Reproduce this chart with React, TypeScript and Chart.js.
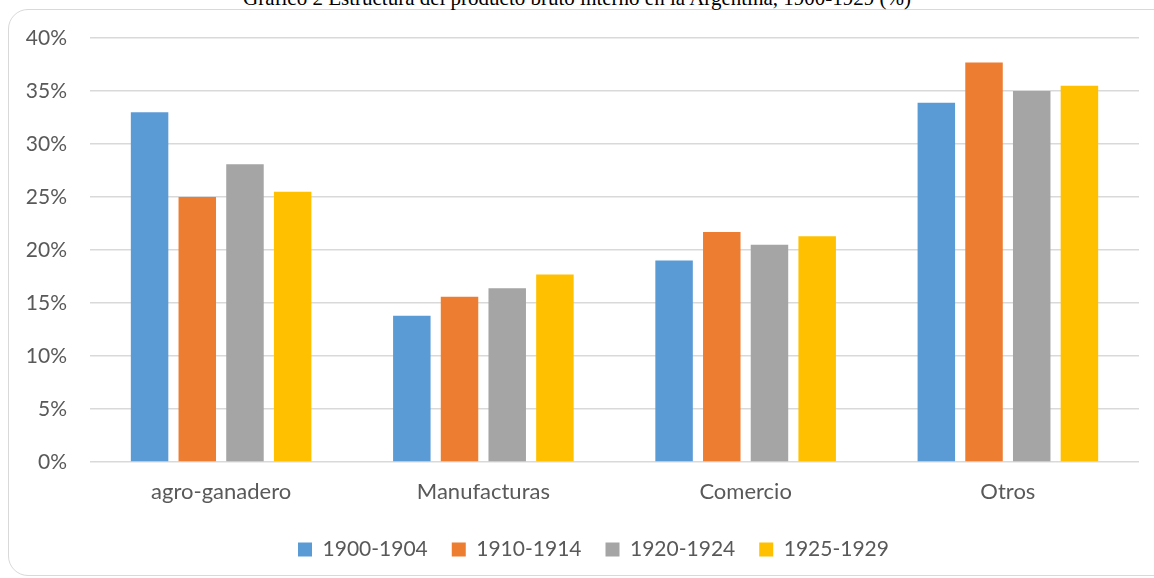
import React, { useEffect, useRef } from "react";
import { Chart, registerables } from "chart.js";

Chart.register(...registerables);

const titleText = "Gráfico 2  Estructura del producto bruto interno en la Argentina, 1900-1929 (%)";
const categories = ["agro-ganadero", "Manufacturas", "Comercio", "Otros"];
const seriesLabels = ["1900-1904", "1910-1914", "1920-1924", "1925-1929"];
const values1900 = [33.0, 13.8, 19.0, 33.9];
const values1910 = [25.0, 15.6, 21.7, 37.7];
const values1920 = [28.1, 16.4, 20.5, 35.0];
const values1925 = [25.5, 17.7, 21.3, 35.5];
const seriesColors = ["#5B9BD5", "#ED7D31", "#A5A5A5", "#FFC000"];
const yMin = 0;
const yMax = 40;
const yStep = 5;

const FONT = "Lato";
const TEXT_COLOR = "#595959";

export default function App() {
  const canvasRef = useRef<HTMLCanvasElement | null>(null);

  useEffect(() => {
    const canvas = canvasRef.current;
    if (!canvas) return;
    const allValues = [values1900, values1910, values1920, values1925];
    const chart = new Chart(canvas, {
      type: "bar",
      data: {
        labels: categories,
        datasets: seriesLabels.map((label, i) => ({
          label,
          data: allValues[i],
          backgroundColor: seriesColors[i],
          borderWidth: 0,
          categoryPercentage: 0.7275,
          barPercentage: 0.786,
        })),
      },
      options: {
        responsive: false,
        animation: false,
        layout: { padding: { left: 24, right: 17, top: 38, bottom: 8 } },
        scales: {
          y: {
            min: yMin,
            max: yMax,
            ticks: {
              stepSize: yStep,
              callback: (v: any) => `${v}%`,
              color: TEXT_COLOR,
              font: { family: FONT, size: 21 },
              padding: 23,
            },
            grid: { color: "#d9d9d9", lineWidth: 1.5, drawTicks: false },
            border: { display: false },
            afterFit: (s: any) => {
              s.width = 66;
            },
          },
          yRightSpacer: {
            type: "linear",
            position: "right",
            display: true,
            ticks: { display: false },
            grid: { display: false, drawTicks: false },
            border: { display: false },
            afterFit: (s: any) => {
              s.width = 24;
            },
          },
          x: {
            ticks: {
              color: TEXT_COLOR,
              font: { family: FONT, size: 22 },
              padding: 17,
            },
            grid: { display: false, drawTicks: false },
            border: { display: false },
            afterFit: (s: any) => {
              s.height = 53;
            },
          },
        },
        plugins: {
          legend: {
            position: "bottom",
            labels: {
              boxWidth: 14,
              boxHeight: 14,
              padding: 24,
              color: TEXT_COLOR,
              font: { family: FONT, size: 21 },
            },
          },
          tooltip: { enabled: false },
        },
      },
    });
    return () => chart.destroy();
  }, []);

  return (
    <div
      style={{
        position: "fixed",
        left: 0,
        top: 0,
        width: 1154,
        height: 578,
        overflow: "hidden",
        background: "#ffffff",
      }}
    >
      <div
        style={{
          position: "absolute",
          left: 8,
          top: 9,
          width: 1180,
          height: 567,
          border: "1px solid #d9d9d9",
          borderRadius: 20,
          boxSizing: "border-box",
        }}
      />
      <div
        style={{
          position: "absolute",
          left: 0,
          top: -12,
          width: 1154,
          textAlign: "center",
          fontFamily: "'Liberation Serif', 'Times New Roman', serif",
          fontSize: 21,
          lineHeight: "20px",
          color: "#000000",
          whiteSpace: "nowrap",
        }}
      >
        {titleText}
      </div>
      <canvas
        ref={canvasRef}
        width={1180}
        height={578}
        style={{ position: "absolute", left: 0, top: 0, width: 1180, height: 578 }}
      />
    </div>
  );
}
